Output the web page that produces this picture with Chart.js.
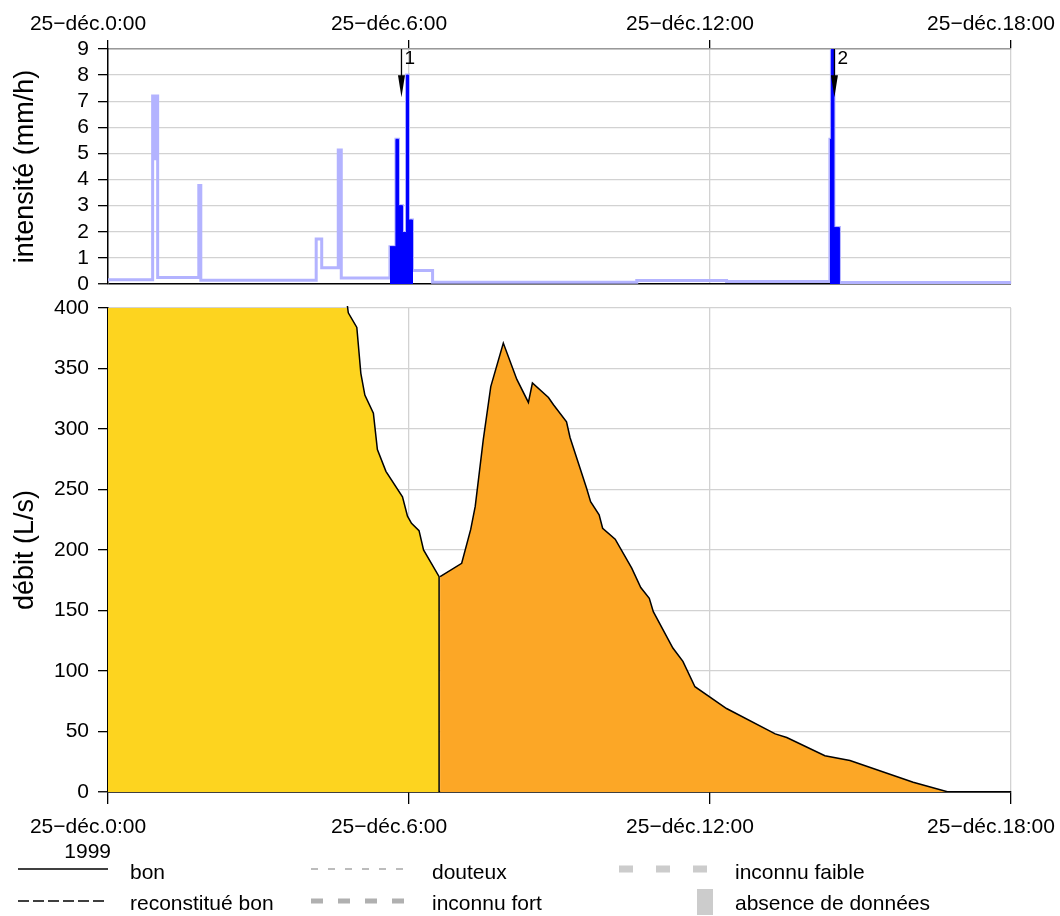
<!DOCTYPE html>
<html>
<head>
<meta charset="utf-8">
<title>Pluie et débit, 25 décembre 1999</title>
<script src="https://cdn.jsdelivr.net/npm/chart.js"></script>
<style>
  html, body { margin: 0; padding: 0; background: #fff; }
  #cadre { position: relative; width: 1060px; height: 916px; }
  #cadre canvas { position: absolute; left: 0; top: 0; }
</style>
</head>
<body>
<div id="cadre">
  <canvas id="pluie" width="1060" height="916"></canvas>
  <canvas id="debit" width="1060" height="916"></canvas>
</div>
<script>
// temps en heures depuis le 25 déc. 0:00
const jourEtiquette = '25\u2212déc.';
const pasHeures = 6;

// intensité de pluie (mm/h) en paliers : début du palier, valeur
const pluieT = [0, 0.89, 0.93, 0.95, 0.99, 1.81, 1.85, 4.15, 4.26, 4.59, 4.65,
  5.62, 5.74, 5.79, 5.87, 5.95, 5.99, 6.07, 6.47, 10.54, 12.33,
  14.39, 14.42, 14.47, 14.58, 18];
const pluieV = [0.16, 7.2, 4.8, 7.2, 0.25, 3.77, 0.14, 1.72, 0.62, 5.13, 0.23,
  1.43, 5.54, 3.0, 1.97, 8.0, 2.45, 0.52, 0.07, 0.13, 0.1,
  5.54, 9.6, 2.16, 0.06, 0.06];

// épisodes pluvieux retenus
const episodeDebut = [5.62, 14.39];
const episodeFin = [6.07, 14.58];
const episodeNom = ['1', '2'];
const flecheT = [5.85, 14.48];
const flecheBas = 7.15;

// débit (L/s) : partie jaune puis partie orange
const debitJauneT = [0, 2, 4, 4.70, 4.79, 4.96, 5.04, 5.12, 5.29, 5.37, 5.54, 5.87, 5.97, 6.05, 6.20, 6.29, 6.60];
const debitJauneV = [470, 480, 450, 425, 396, 384, 346, 328, 313, 283, 265, 244, 228, 222, 216, 200, 178];
const debitOrangeT = [6.62, 7.05, 7.23, 7.32, 7.48, 7.63, 7.88, 8.15, 8.38, 8.46,
  8.78, 8.88, 9.14, 9.21, 9.54, 9.62, 9.79, 9.86, 10.11, 10.44,
  10.62, 10.79, 10.87, 11.26, 11.46, 11.70, 12.33, 13.30, 13.53, 14.29,
  14.79, 16.05, 16.75, 18];
const debitOrangeV = [178, 189, 217, 236, 291, 335, 371, 341, 322, 338,
  326, 320, 306, 293, 251, 240, 229, 218, 209, 185,
  169, 160, 149, 119, 108, 87, 69, 48, 45, 30,
  26, 8, 0, 0];

// légende des qualités de données
const legendeAnnee = '1999';
const legendeTextes = ['bon', 'reconstitué bon', 'douteux', 'inconnu fort', 'inconnu faible', 'absence de données'];

const police = "'Liberation Sans', Arial, Helvetica, sans-serif";
const gris = '#d2d2d2';
const noir = '#000';

function points(ts, vs) {
  return ts.map((t, i) => ({ x: t, y: vs[i] }));
}

const pluiePts = points(pluieT, pluieV);
// paliers de chaque épisode, refermés à zéro
const episodesPts = episodeDebut.map((d, k) => {
  const p = pluiePts.filter(q => q.x >= d && q.x < episodeFin[k]);
  p.push({ x: episodeFin[k], y: 0 });
  return p;
});

const jaunePts = points(debitJauneT, debitJauneV);
jaunePts.push({ x: debitJauneT[debitJauneT.length - 1], y: 0 });
const orangePts = points(debitOrangeT, debitOrangeV);

function axeX(position, hauteur, tickLen, pad) {
  return {
    type: 'linear', position: position, min: 0, max: 18,
    afterFit: s => { s.height = hauteur; s.paddingLeft = 0; s.paddingRight = 0; },
    ticks: {
      stepSize: pasHeures, autoSkip: false, maxRotation: 0, padding: pad, labelOffset: -20,
      color: noir, font: { family: police, size: 21 },
      callback: v => jourEtiquette + v + ':00'
    },
    grid: {
      color: c => (c.tick && c.tick.value === 0) ? 'rgba(0,0,0,0)' : gris,
      lineWidth: 1.3, tickColor: noir, tickWidth: 1.3, tickLength: tickLen
    },
    border: { color: position === 'top' ? '#999' : noir, width: 1.5 }
  };
}

function axeY(titre, max, pas) {
  return {
    min: 0, max: max,
    afterFit: s => { s.width = 108; s.paddingTop = 0; s.paddingBottom = 0; },
    ticks: { stepSize: pas, autoSkip: false, padding: 9, color: noir, font: { family: police, size: 21 } },
    grid: {
      color: c => (c.tick && c.tick.value === 0) ? noir : gris,
      lineWidth: c => (c.tick && c.tick.value === 0) ? 1.5 : 1.3,
      tickColor: noir, tickWidth: 1.3, tickLength: 10
    },
    border: { color: noir, width: 1.5 },
    title: { display: true, text: titre, color: noir, font: { family: police, size: 27 }, padding: { top: 9, bottom: 0 } }
  };
}

const base = {
  responsive: false, animation: false, devicePixelRatio: 1, events: [],
  plugins: { legend: { display: false }, tooltip: { enabled: false } }
};

// flèches de début d'épisode avec leur numéro
const flechesPlugin = {
  id: 'fleches',
  afterDatasetsDraw(chart) {
    const ctx = chart.ctx, sx = chart.scales.x, sy = chart.scales.y;
    ctx.save();
    ctx.strokeStyle = noir; ctx.fillStyle = noir; ctx.lineWidth = 1.3;
    flecheT.forEach((t, k) => {
      const x = sx.getPixelForValue(t);
      const haut = sy.getPixelForValue(9);
      const bas = sy.getPixelForValue(flecheBas);
      ctx.beginPath();
      ctx.moveTo(x, haut); ctx.lineTo(x, bas - 20); ctx.stroke();
      ctx.beginPath();
      ctx.moveTo(x - 3.5, bas - 22); ctx.lineTo(x + 3.5, bas - 22); ctx.lineTo(x, bas);
      ctx.closePath(); ctx.fill();
      ctx.font = '19px ' + police;
      ctx.textAlign = 'left'; ctx.textBaseline = 'middle';
      ctx.fillText(episodeNom[k], x + 3, haut + 10);
    });
    ctx.restore();
  }
};

new Chart(document.getElementById('pluie'), {
  type: 'line',
  data: {
    datasets: [
      ...episodesPts.map(p => ({
        data: p, stepped: true, fill: 'origin', borderColor: '#0000ff', borderWidth: 1,
        backgroundColor: '#0000ff', pointRadius: 0
      })),
      { data: pluiePts, stepped: true, fill: false, borderColor: '#b3b3ff', borderWidth: 3, pointRadius: 0 }
    ]
  },
  options: Object.assign({}, base, {
    layout: { padding: { top: 0, right: 49, bottom: 916 - 284, left: 0 } },
    scales: { x: axeX('top', 49, 9, 3), y: axeY('intensité (mm/h)', 9, 1) }
  }),
  plugins: [flechesPlugin]
});

// légende des qualités sous le graphique de débit
const legendePlugin = {
  id: 'legendeQualite',
  afterDraw(chart) {
    const ctx = chart.ctx;
    ctx.save();
    ctx.font = '21px ' + police;
    ctx.fillStyle = noir; ctx.textBaseline = 'middle';
    ctx.textAlign = 'right';
    ctx.fillText(legendeAnnee, 111, 852);
    ctx.textAlign = 'left';
    const y1 = 871, y2 = 902;
    const trait = (x0, x1, y, couleur, larg, tirets) => {
      ctx.beginPath(); ctx.strokeStyle = couleur; ctx.lineWidth = larg; ctx.setLineDash(tirets);
      ctx.moveTo(x0, y); ctx.lineTo(x1, y); ctx.stroke();
    };
    trait(18, 108, y1 - 2, noir, 1.3, []);
    trait(18, 108, y2 - 1, noir, 1.3, [11, 4]);
    trait(311, 406, y1 - 2, '#bcbcbc', 2, [7, 10]);
    trait(311, 406, y2 - 1, '#b0b0b0', 5, [12, 15]);
    trait(619, 712, y1 - 2, '#cccccc', 7, [14, 23]);
    ctx.setLineDash([]);
    ctx.fillStyle = '#cccccc';
    ctx.fillRect(697, y2 - 13, 16, 26);
    ctx.fillStyle = noir;
    const col = [130, 130, 432, 432, 735, 735];
    legendeTextes.forEach((t, i) => ctx.fillText(t, col[i], i % 2 ? y2 + 2 : y1 + 2));
    ctx.restore();
  }
};

new Chart(document.getElementById('debit'), {
  type: 'line',
  data: {
    datasets: [
      { data: jaunePts, fill: 'origin', backgroundColor: '#fdd41f', borderColor: noir, borderWidth: 1.5,
        pointRadius: 0, tension: 0, clip: { left: 0, top: 2, right: 0, bottom: 0 } },
      { data: orangePts, fill: 'origin', backgroundColor: '#fca726', borderColor: noir, borderWidth: 1.5, pointRadius: 0, tension: 0 }
    ]
  },
  options: Object.assign({}, base, {
    layout: { padding: { top: 308, right: 49, bottom: 74, left: 0 } },
    scales: { x: axeX('bottom', 50, 12, 11), y: axeY('débit (L/s)', 400, 50) }
  }),
  plugins: [legendePlugin]
});
</script>
</body>
</html>
